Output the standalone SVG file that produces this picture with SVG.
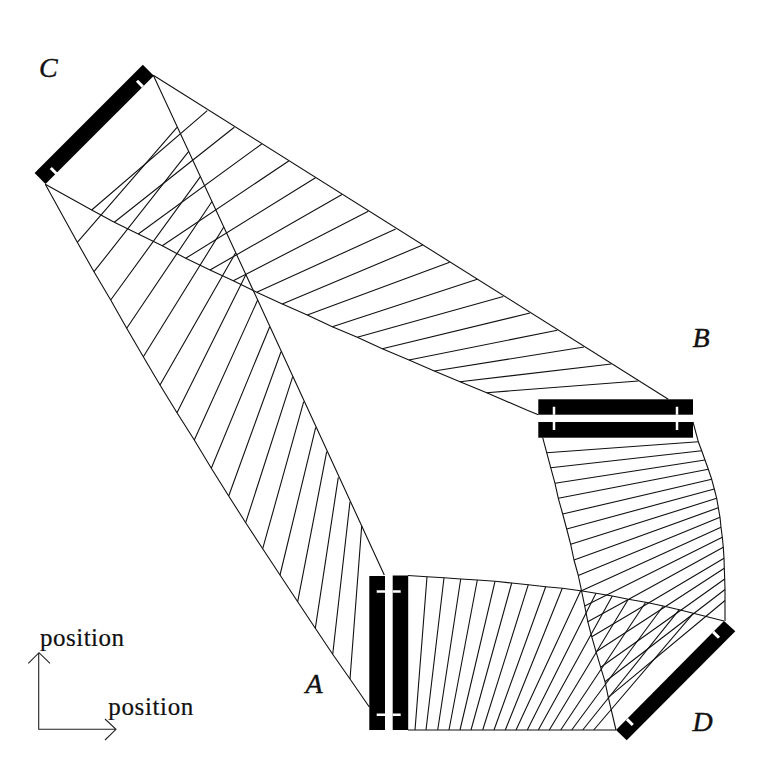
<svg xmlns="http://www.w3.org/2000/svg" width="768" height="768" viewBox="0 0 768 768">
<style>
.bar{fill:#000;stroke:none}
.tick{stroke:#fff;stroke-width:2.5;fill:none}
.tick2{stroke:#fff;stroke-width:3;fill:none}
.env,.rung{stroke:#111;stroke-width:1.1;fill:none;stroke-linejoin:round}
.axis{stroke:#222;stroke-width:1.1;fill:none}
.pos{font-family:"Liberation Serif",serif;font-size:25px;fill:#111;stroke:#111;stroke-width:.2}
.lab{font-family:"Liberation Serif",serif;font-style:italic;font-size:28px;fill:#111;stroke:#111;stroke-width:.4}
</style>
<rect width="768" height="768" fill="#fff"/>
<g id="connectors">
<g id="beam-c-b">
<path class="env" d="M153.3 75.3L668.3 399.3"/>
<path class="env" d="M45.3 184.3L91.7 210L114.3 222.3L138.3 234L162.3 245.7L185.7 258.3L210 270L233.3 280.7L256.7 292.3L282.3 304L307.3 315L332.3 326.7L357.3 337.3L382.3 348.7L409 360L434.3 371L460 381.7L486.7 392.7L526.7 410L538.3 414.7"/>
<path class="rung" d="M91.7 210L207.3 110.7M114.3 222.3L234.3 127.3M138.3 234L261.7 144M162.3 245.7L288.7 161M185.7 258.3L315.5 177.8M210 270L342 194.5M233.3 280.7L368.3 211.3M256.7 292.3L395.7 229M282.3 304L422.7 245M307.3 315L449.7 262.3M332.3 326.7L477.3 279.3M357.3 337.3L503.3 296.5M382.3 348.7L530 313M409 360L557.3 330.3M434.3 371L584 347M460 381.7L611.3 364M486.7 392.7L638.3 381"/>
</g>
<g id="beam-c-a">
<path class="env" d="M153.3 75.3L257.7 300L384.3 575"/>
<path class="env" d="M45.3 184.3L77.3 242.3L94 271.7L110.7 300L126.7 328.3L143.3 356.7L160 385L177 412.7L194.3 440L211.3 468.3L228.7 496L245.7 522.7L262.7 548.7L280 575L297.7 601.7L315.3 628.3L332.7 654.3L350 679L369.3 707"/>
<path class="rung" d="M77.3 242.3L177 127.3M94 271.7L188.7 151.4M110.7 300L200.4 176.6M126.7 328.3L212 201.5M143.3 356.7L223.8 227M160 385L235.7 252.7M177 412.7L245.7 275M194.3 440L257.7 300M211.3 468.3L269.7 326.7M228.7 496L281 351.7M245.7 522.7L292.7 376.7M262.7 548.7L303.7 401.7M280 575L315.7 427.3M297.7 601.7L326.7 451.7M315.3 628.3L338.3 477.3M332.7 654.3L350 501.7M350 679L361.7 526"/>
</g>
<g id="beam-a-d">
<path class="env" d="M408 575.5L427 576.7L444 577.7L460.7 579L477.3 580L495 581.3L511.7 583L528.3 584.7L545.7 586.7L562.3 588.3L580.7 590.7L596 593.3L612.3 596L628.3 599.3L645.7 602.3L663.3 606L679.3 609.7L693.3 613.3L724 621"/>
<path class="env" d="M408 730H616"/>
<path class="rung" d="M415 730L427 576.7M426 730L444 577.7M437.7 730L460.7 579M449 730L477.3 580M460 730L495 581.3M471 730L511.7 583M482.7 730L528.3 584.7M494 730L545.7 586.7M505.3 730L562.3 588.3M516 730L580.7 590.7M527.3 730L596 593.3M538.3 730L612.3 596M549.3 730L628.3 599.3M560.7 730L645.7 602.3M571.7 730L663.3 606M582.7 730L679.3 609.7M593.7 730L693.3 613.3"/>
</g>
<g id="beam-b-d">
<path class="env" d="M542.7 437.7L546.7 452.7L550.7 467.7L555 483.3L558.3 498.3L562.7 514L566.7 529L570.7 544.3L574 560L578.3 575.5L581.5 590.7L584.7 606L587.8 621.7L591.7 636.7L596 651.7L600.7 667.3L605 681.7L608.3 697.3L616 730"/>
<path class="env" d="M693 422L698.3 441.7L701.7 450.7L705 460L708.3 469.3L711.7 479.3L714.3 489L716.7 498.3L718.3 507.7L720 517.3L721 527.3L722.3 537.3L723.3 547.3L724 558.3L724.3 568.3L724.7 579L725 589.5L725 600.5L725 621"/>
<path class="rung" d="M546.7 452.7L698.3 441.7M550.7 467.7L701.7 450.7M555 483.3L705 460M558.3 498.3L708.3 469.3M562.7 514L711.7 479.3M566.7 529L714.3 489M570.7 544.3L716.7 498.3M574 560L718.3 507.7M578.3 575.5L720 517.3M581.5 590.7L721 527.3M584.7 606L722.3 537.3M587.8 621.7L723.3 547.3M591.7 636.7L724 558.3M596 651.7L724.3 568.3M600.7 667.3L724.7 579M605 681.7L725 589.5M608.3 697.3L725 600.5"/>
</g>
</g>
<g id="node-A">
<rect class="bar" x="369.3" y="576" width="15.7" height="154"/>
<rect class="bar" x="392.7" y="575.5" width="15.5" height="154.5"/>
<path class="tick" d="M376.7 591.5H385M392.7 591.5H400.7M376.7 714.7H385M392.7 714.7H400.7"/>
<text class="lab" x="305.5" y="692.7">A</text>
</g>
<g id="node-B">
<rect class="bar" x="538.3" y="399.3" width="154.7" height="15.4"/>
<rect class="bar" x="538.3" y="422" width="154.7" height="15.7"/>
<path class="tick" d="M554 406.7V414.7M554 422V430M677 406.7V414.7M677 422V430"/>
<text class="lab" x="692.5" y="346.7">B</text>
</g>
<g id="node-C">
<polygon class="bar" points="142.8,64.7 153.8,75.7 45.5,184 34.6,173"/>
<path class="tick2" d="M142.8 86.6L137 80.8M56.6 173.8L50.8 168"/>
<text class="lab" x="39" y="77.3">C</text>
</g>
<g id="node-D">
<polygon class="bar" points="724,621 735.3,631.3 626.7,740.3 616,730"/>
<path class="tick2" d="M713.1 631.9L719 637.8M626.9 719.1L632.8 725"/>
<text class="lab" x="692.5" y="731">D</text>
</g>
<g id="axes">
<path class="axis" d="M38.7 653.3V729.3H116M28.3 663.3L39 652.7L50 663.3M105 719L116 729.3L105 740"/>
<text class="pos" x="40" y="646" textLength="84" lengthAdjust="spacing">position</text>
<text class="pos" x="108.3" y="715" textLength="85" lengthAdjust="spacing">position</text>
</g>
</svg>
